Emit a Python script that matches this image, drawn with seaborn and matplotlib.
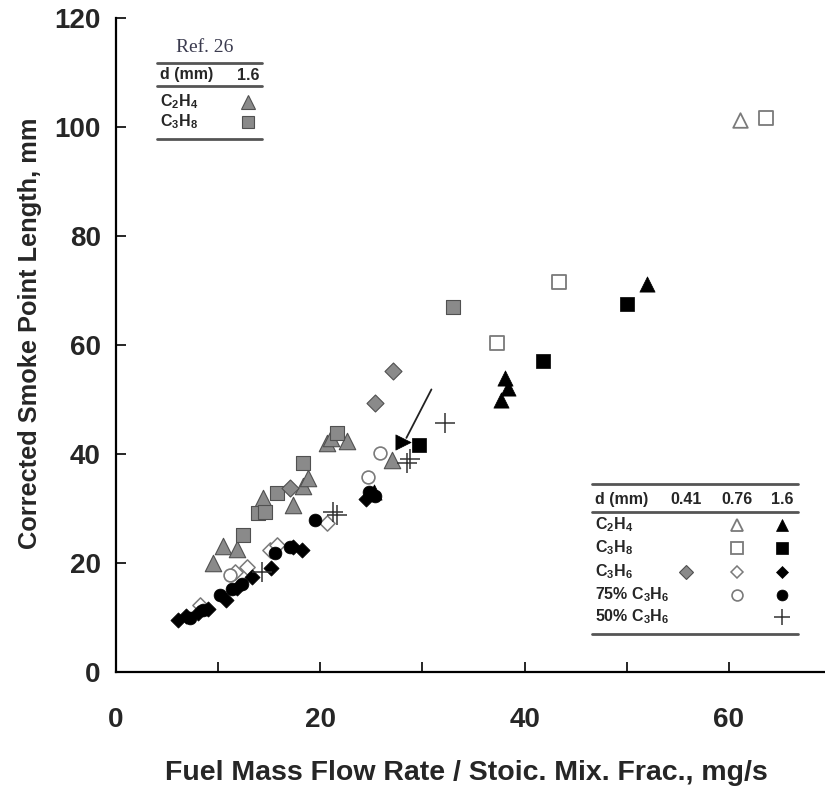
import matplotlib
matplotlib.use("Agg")
import matplotlib.pyplot as plt
import seaborn as sns
import numpy as np
import pandas as pd
from matplotlib.ticker import MultipleLocator

sns.set_style("white")
plt.rcParams['font.family'] = ['Liberation Sans', 'DejaVu Sans']
plt.rcParams['mathtext.fontset'] = 'custom'
plt.rcParams['mathtext.rm'] = 'Liberation Sans:bold'
plt.rcParams['mathtext.bf'] = 'Liberation Sans:bold'
plt.rcParams['mathtext.default'] = 'bf'

# ---------------- data ----------------
ref_c2h4_x = [9.5, 10.5, 11.8, 14.4, 17.3, 18.3, 18.8, 20.7, 21.0, 22.6, 27.0]
ref_c2h4_y = [20.0, 23.1, 22.6, 31.9, 30.6, 34.1, 35.6, 42.0, 43.0, 42.3, 38.9]
ref_c3h8_x = [12.4, 13.9, 14.6, 15.8, 18.3, 21.6, 33.0]
ref_c3h8_y = [25.1, 29.2, 29.4, 32.8, 38.3, 43.9, 67.0]

c3h6_041_x = [17.0, 25.4, 27.1]
c3h6_041_y = [33.7, 49.3, 55.2]

c2h4_076_x = [61.1]
c2h4_076_y = [101.3]
c3h8_076_x = [37.3, 43.4, 63.6]
c3h8_076_y = [60.4, 71.6, 101.7]
c3h6_076_x = [8.2, 11.6, 12.8, 15.1, 15.8, 20.7]
c3h6_076_y = [12.3, 18.3, 19.3, 22.4, 23.3, 27.3]
p75_076_x = [11.2, 24.7, 25.8]
p75_076_y = [17.8, 35.8, 40.2]

c2h4_16_x = [25.3, 37.7, 38.4, 38.1, 52.0]
c2h4_16_y = [33.0, 49.9, 52.1, 53.9, 71.2]
c3h8_16_x = [29.7, 41.8, 50.0]
c3h8_16_y = [41.7, 57.1, 67.5]
c3h6_16_x = [6.1, 6.9, 8.0, 9.0, 10.8, 11.8, 13.3, 15.2, 17.3, 18.2, 24.5]
c3h6_16_y = [9.6, 10.3, 10.8, 11.6, 13.3, 15.5, 17.4, 19.0, 22.9, 22.3, 31.8]
p75_16_x = [7.2, 8.5, 10.2, 11.4, 12.3, 15.6, 17.0, 19.5, 24.8, 25.4]
p75_16_y = [9.9, 11.4, 14.1, 15.2, 16.2, 21.8, 23.0, 27.9, 33.0, 32.3]
p50_16_x = [14.3, 21.2, 21.6, 28.5, 28.8, 32.2]
p50_16_y = [18.3, 29.4, 28.8, 38.3, 39.0, 45.7]

marked_x = [28.1]
marked_y = [42.2]
arrow_start = (31.0, 52.3)

x_ticks = [0, 20, 40, 60]
y_ticks = [0, 20, 40, 60, 80, 100, 120]

GRAY = '#8a8a8a'
GRAYE = '#505050'
OPEN = '#7a7a7a'

series = [
    (ref_c2h4_x, ref_c2h4_y, dict(marker='^', s=140, color=GRAY, edgecolor=GRAYE, linewidth=0.8)),
    (ref_c3h8_x, ref_c3h8_y, dict(marker='s', s=110, color=GRAY, edgecolor=GRAYE, linewidth=0.8)),
    (c3h6_041_x, c3h6_041_y, dict(marker='D', s=75, color=GRAY, edgecolor=GRAYE, linewidth=0.8)),
    (c2h4_076_x, c2h4_076_y, dict(marker='^', s=110, color='white', edgecolor=OPEN, linewidth=1.3)),
    (c3h8_076_x, c3h8_076_y, dict(marker='s', s=95, color='white', edgecolor=OPEN, linewidth=1.3)),
    (c3h6_076_x, c3h6_076_y, dict(marker='D', s=60, color='white', edgecolor=OPEN, linewidth=1.1)),
    (p75_076_x, p75_076_y, dict(marker='o', s=85, color='white', edgecolor=OPEN, linewidth=1.2)),
    (c2h4_16_x, c2h4_16_y, dict(marker='^', s=120, color='black', edgecolor='black', linewidth=0.5)),
    (c3h8_16_x, c3h8_16_y, dict(marker='s', s=100, color='black', edgecolor='black', linewidth=0.5)),
    (c3h6_16_x, c3h6_16_y, dict(marker='D', s=60, color='black', edgecolor='black', linewidth=0.5)),
    (p75_16_x, p75_16_y, dict(marker='o', s=85, color='black', edgecolor='black', linewidth=0.5)),
    (p50_16_x, p50_16_y, dict(marker='+', s=190, color='#333333', linewidth=1.1)),
    (marked_x, marked_y, dict(marker='>', s=120, color='black', edgecolor='black', linewidth=0.5)),
]

W, H = 825, 786
fig = plt.figure(figsize=(W / 100, H / 100), dpi=100)
ax = fig.add_axes([116 / W, 1 - 672 / H, (825 - 116) / W, (672 - 18) / H])

for xs, ys, kw in series:
    sns.scatterplot(x=xs, y=ys, ax=ax, legend=False, zorder=3, clip_on=False, **kw)

ax.annotate('', xy=(marked_x[0] + 0.2, marked_y[0] + 0.3), xytext=arrow_start,
            arrowprops=dict(arrowstyle='-', color='#222222', lw=1.3), zorder=2)

ax.set_xlim(0, 69.4)
ax.set_ylim(0, 120)
ax.set_xticks(x_ticks)
ax.xaxis.set_minor_locator(MultipleLocator(10))
ax.set_yticks(y_ticks)
for s in ['top', 'right']:
    ax.spines[s].set_visible(False)
for s in ['left', 'bottom']:
    ax.spines[s].set_color('black')
    ax.spines[s].set_linewidth(1.6)
ax.tick_params(axis='x', which='both', direction='in', length=7, width=1.4, pad=25,
               labelsize=20, bottom=True)
ax.tick_params(axis='y', which='both', direction='in', length=7, width=1.4, pad=11,
               labelsize=20, left=True)
for lab in ax.get_xticklabels() + ax.get_yticklabels():
    lab.set_fontweight('bold')

fig.text(466 / W, 1 - 773 / H, 'Fuel Mass Flow Rate / Stoic. Mix. Frac., mg/s',
         ha='center', va='center', fontsize=20.5, fontweight='bold')
fig.text(30 / W, 1 - 333 / H, 'Corrected Smoke Point Length, mm', rotation=90,
         ha='center', va='center', fontsize=18.3, fontweight='bold')

def P(px, py):
    return px / W, 1 - py / H

def hline(x0, x1, y, lw=2.0, c='#555555'):
    fig.add_artist(plt.Line2D([x0 / W, x1 / W], [1 - y / H, 1 - y / H], lw=lw, color=c,
                              transform=fig.transFigure))

def mark(px, py, kw):
    k = dict(kw)
    m = k.pop('marker'); s = k.pop('s')
    fc = k.pop('color'); ec = k.pop('edgecolor', fc); lw = k.pop('linewidth', 1)
    fig.add_artist(plt.Line2D([px / W], [1 - py / H], marker=m, markersize=np.sqrt(s) * 0.85,
                              markerfacecolor=fc, markeredgecolor=ec if m != '+' else fc,
                              markeredgewidth=lw, linestyle='none', transform=fig.transFigure))

FS = 11.5
# top-left table (Ref. 26)
fig.text(*P(205, 48), 'Ref. 26', family=['Liberation Serif'], fontsize=14,
         color='#3b3b4f', ha='center', va='center')
hline(157, 262, 63)
fig.text(*P(160, 75), 'd (mm)', fontsize=FS, fontweight='bold', ha='left', va='center')
fig.text(*P(259, 75), '1.6', fontsize=FS, fontweight='bold', ha='right', va='center')
hline(157, 262, 86)
fig.text(*P(160, 102), 'C$_2$H$_4$', fontsize=FS, fontweight='bold', ha='left', va='center')
mark(248, 102, series[0][2])
fig.text(*P(160, 122), 'C$_3$H$_8$', fontsize=FS, fontweight='bold', ha='left', va='center')
mark(248, 122, series[1][2])
hline(157, 262, 139)

# bottom-right table
hline(592, 798, 484)
fig.text(*P(595, 499), 'd (mm)', fontsize=FS, fontweight='bold', ha='left', va='center')
for cx, t in [(686, '0.41'), (737, '0.76'), (782, '1.6')]:
    fig.text(*P(cx, 499), t, fontsize=FS, fontweight='bold', ha='center', va='center')
hline(592, 798, 512)
rows = [
    (525, 'C$_2$H$_4$', [(737, 3), (782, 7)]),
    (548, 'C$_3$H$_8$', [(737, 4), (782, 8)]),
    (572, 'C$_3$H$_6$', [(686, 2), (737, 5), (782, 9)]),
    (595, '75% C$_3$H$_6$', [(737, 6), (782, 10)]),
    (617, '50% C$_3$H$_6$', [(782, 11)]),
]
for ry, lab, marks in rows:
    fig.text(*P(595, ry), lab, fontsize=FS, fontweight='bold', ha='left', va='center')
    for mx, si in marks:
        mark(mx, ry, series[si][2])
hline(592, 798, 634)

fig.savefig('out.png', dpi=100)
